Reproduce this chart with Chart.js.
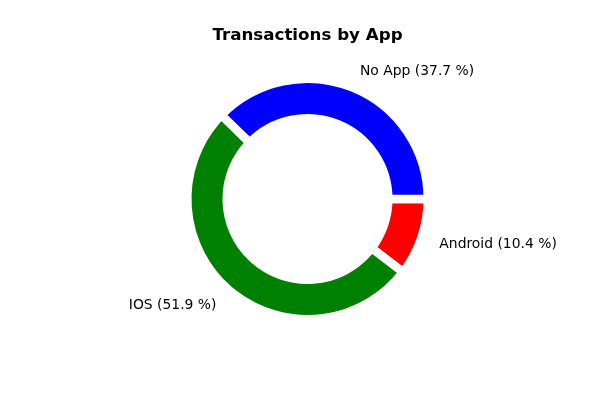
<!DOCTYPE html>
<html>
<head>
<meta charset="utf-8">
<script src="https://cdn.jsdelivr.net/npm/chart.js@4/dist/chart.umd.min.js"></script>
<style>
html,body{margin:0;padding:0;background:#fff;}
canvas{display:block;}
</style>
</head>
<body>
<canvas id="c" width="600" height="400"></canvas>
<script>
const chartTitle = 'Transactions by App';
const categories = ['Android', 'IOS', 'No App'];
const shares = [10.4, 51.9, 37.7];
const sliceColors = ['#ff0000', '#008000', '#0000ff'];

const labelPlugin = {
  id: 'pieLabels',
  afterDraw(chart) {
    const ctx = chart.ctx;
    ctx.save();
    ctx.fillStyle = '#000';
    ctx.font = 'bold 16.7px "DejaVu Sans"';
    ctx.textAlign = 'center';
    ctx.textBaseline = 'alphabetic';
    ctx.fillText(chartTitle, 307.5, 40);
    const meta = chart.getDatasetMeta(0);
    ctx.font = '13.9px "DejaVu Sans"';
    meta.data.forEach((arc, i) => {
      const p = arc.getProps(['x', 'y', 'startAngle', 'endAngle', 'outerRadius'], true);
      const mid = (p.startAngle + p.endAngle) / 2;
      const d = p.outerRadius * 1.157;
      const x = p.x + Math.cos(mid) * d;
      const y = p.y + Math.sin(mid) * d;
      ctx.textAlign = Math.cos(mid) >= 0 ? 'left' : 'right';
      ctx.fillText(categories[i] + ' (' + shares[i].toFixed(1) + ' %)', x, y + 4.5);
    });
    ctx.restore();
  }
};

new Chart(document.getElementById('c'), {
  type: 'doughnut',
  data: {
    labels: categories,
    datasets: [{
      data: shares,
      backgroundColor: sliceColors,
      borderColor: '#ffffff',
      borderWidth: 8.6,
      hoverOffset: 0
    }]
  },
  options: {
    responsive: false,
    animation: false,
    rotation: 90,
    radius: 120.3,
    cutout: '67.1%',
    layout: { padding: { left: 15, right: 0, top: 0, bottom: 2 } },
    plugins: {
      legend: { display: false },
      tooltip: { enabled: false },
      title: { display: false }
    }
  },
  plugins: [labelPlugin]
});
</script>
</body>
</html>
